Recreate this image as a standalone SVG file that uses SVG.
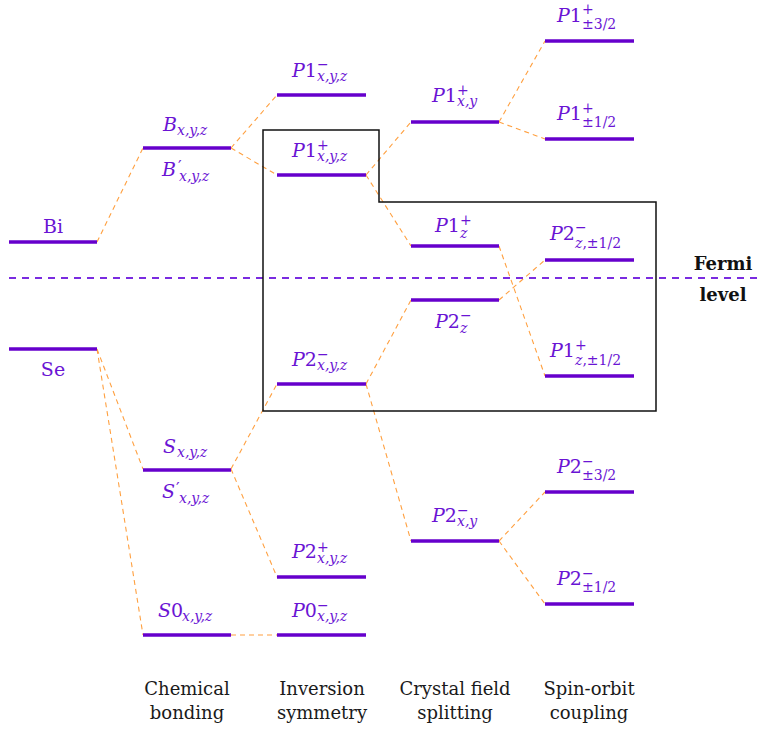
<svg xmlns="http://www.w3.org/2000/svg" width="760" height="729" viewBox="0 0 760 729">
<style>
.lv{stroke:#6600cc;stroke-width:3.6;fill:none}
.cn{stroke:#ffa040;stroke-width:1.1;stroke-dasharray:5 4;fill:none}
text{font-family:"DejaVu Serif","Liberation Serif",serif;fill:#6a14d4}
.m{font-size:19px}
.s{font-size:14px}
.pr{font-size:16px}
.i{font-style:italic}
.cap{font-size:18px;fill:#1a1a1a;text-anchor:middle}
.fm{font-size:18px;font-weight:bold;fill:#111;text-anchor:middle}
</style>
<rect width="760" height="729" fill="#fff"/>
<g id="connectors">
<path class="cn" d="M97 242L143 148M97 349L143 469M97 349L143 635M231 148L277 95M231 148L277 175M231 469L277 384M231 469L277 577M231 635L277 635M366 175L411 122M366 175L411 246M366 384L411 300M366 384L411 541M499 122L545 41M499 122L545 139M499 246L545 376M499 300L545 260M499 541L545 492M499 541L545 604"/>
</g>
<g id="fermi">
<line x1="9" y1="278" x2="760" y2="278" stroke="#7a2be0" stroke-width="2" stroke-dasharray="7 6"/>
<text class="fm" x="723" y="270">Fermi</text>
<text class="fm" x="723" y="301">level</text>
</g>
<g id="box">
<path d="M263 130H379V202H656V411H263Z" fill="none" stroke="#111" stroke-width="1.5"/>
</g>
<g id="Bi"><line class="lv" x1="9" y1="242" x2="97" y2="242"/><text class="m" x="53" y="233" text-anchor="middle">Bi</text></g>
<g id="Se"><line class="lv" x1="9" y1="349" x2="97" y2="349"/><text class="m" x="53" y="376" text-anchor="middle">Se</text></g>
<g id="B"><line class="lv" x1="143" y1="148" x2="231" y2="148"/>
<text class="m i" x="163" y="131">B</text><text class="s i" x="177" y="135">x,y,z</text>
<text class="m i" x="162" y="176">B</text><text class="pr" x="178" y="172">′</text><text class="s i" x="179" y="181">x,y,z</text></g>
<g id="S"><line class="lv" x1="143" y1="470" x2="231" y2="470"/>
<text class="m i" x="163" y="453">S</text><text class="s i" x="177" y="457">x,y,z</text>
<text class="m i" x="162" y="498">S</text><text class="pr" x="176" y="494">′</text><text class="s i" x="179" y="503">x,y,z</text></g>
<g id="S0"><line class="lv" x1="143" y1="635" x2="231" y2="635"/>
<text class="m" x="158" y="617"><tspan class="i">S</tspan>0</text><text class="s i" x="182" y="621">x,y,z</text></g>
<g id="P1m-xyz"><line class="lv" x1="277" y1="95" x2="366" y2="95"/>
<text class="m" x="292" y="77"><tspan class="i">P</tspan>1</text><text class="s" x="317" y="69">−</text><text class="s i" x="317" y="81">x,y,z</text></g>
<g id="P1p-xyz"><line class="lv" x1="277" y1="175" x2="366" y2="175"/>
<text class="m" x="292" y="157"><tspan class="i">P</tspan>1</text><text class="s" x="317" y="150">+</text><text class="s i" x="317" y="161">x,y,z</text></g>
<g id="P2m-xyz"><line class="lv" x1="277" y1="384" x2="366" y2="384"/>
<text class="m" x="292" y="366"><tspan class="i">P</tspan>2</text><text class="s" x="317" y="359">−</text><text class="s i" x="317" y="370">x,y,z</text></g>
<g id="P2p-xyz"><line class="lv" x1="277" y1="577" x2="366" y2="577"/>
<text class="m" x="292" y="558"><tspan class="i">P</tspan>2</text><text class="s" x="317" y="552">+</text><text class="s i" x="317" y="563">x,y,z</text></g>
<g id="P0m-xyz"><line class="lv" x1="277" y1="635" x2="366" y2="635"/>
<text class="m" x="292" y="617"><tspan class="i">P</tspan>0</text><text class="s" x="317" y="610">−</text><text class="s i" x="317" y="621">x,y,z</text></g>
<g id="P1p-xy"><line class="lv" x1="411" y1="122" x2="499" y2="122"/>
<text class="m" x="432" y="102"><tspan class="i">P</tspan>1</text><text class="s" x="457" y="95">+</text><text class="s i" x="457" y="106">x,y</text></g>
<g id="P1p-z"><line class="lv" x1="411" y1="246" x2="499" y2="246"/>
<text class="m" x="435" y="232"><tspan class="i">P</tspan>1</text><text class="s" x="460" y="225">+</text><text class="s i" x="460" y="238">z</text></g>
<g id="P2m-z"><line class="lv" x1="411" y1="300" x2="499" y2="300"/>
<text class="m" x="435" y="328"><tspan class="i">P</tspan>2</text><text class="s" x="460" y="320">−</text><text class="s i" x="460" y="333">z</text></g>
<g id="P2m-xy"><line class="lv" x1="411" y1="541" x2="499" y2="541"/>
<text class="m" x="432" y="522"><tspan class="i">P</tspan>2</text><text class="s" x="457" y="515">−</text><text class="s i" x="457" y="526">x,y</text></g>
<g id="P1p-32"><line class="lv" x1="545" y1="41" x2="634" y2="41"/>
<text class="m" x="557" y="22"><tspan class="i">P</tspan>1</text><text class="s" x="582" y="14">+</text><text class="s" x="582" y="29">±3/2</text></g>
<g id="P1p-12"><line class="lv" x1="545" y1="139" x2="634" y2="139"/>
<text class="m" x="557" y="120"><tspan class="i">P</tspan>1</text><text class="s" x="582" y="113">+</text><text class="s" x="582" y="127">±1/2</text></g>
<g id="P2m-z12"><line class="lv" x1="545" y1="260" x2="634" y2="260"/>
<text class="m" x="550" y="240"><tspan class="i">P</tspan>2</text><text class="s" x="575" y="232">−</text><text class="s" x="575" y="248"><tspan class="i">z</tspan>,±1/2</text></g>
<g id="P1p-z12"><line class="lv" x1="545" y1="376" x2="634" y2="376"/>
<text class="m" x="550" y="357"><tspan class="i">P</tspan>1</text><text class="s" x="575" y="350">+</text><text class="s" x="575" y="365"><tspan class="i">z</tspan>,±1/2</text></g>
<g id="P2m-32"><line class="lv" x1="545" y1="492" x2="634" y2="492"/>
<text class="m" x="557" y="473"><tspan class="i">P</tspan>2</text><text class="s" x="582" y="466">−</text><text class="s" x="582" y="480">±3/2</text></g>
<g id="P2m-12"><line class="lv" x1="545" y1="604" x2="634" y2="604"/>
<text class="m" x="557" y="585"><tspan class="i">P</tspan>2</text><text class="s" x="582" y="578">−</text><text class="s" x="582" y="592">±1/2</text></g>
<g id="captions">
<text class="cap" x="187" y="695">Chemical</text><text class="cap" x="187" y="719">bonding</text>
<text class="cap" x="322" y="695">Inversion</text><text class="cap" x="322" y="719">symmetry</text>
<text class="cap" x="455" y="695">Crystal field</text><text class="cap" x="455" y="719">splitting</text>
<text class="cap" x="589" y="695">Spin-orbit</text><text class="cap" x="589" y="719">coupling</text>
</g>
</svg>
